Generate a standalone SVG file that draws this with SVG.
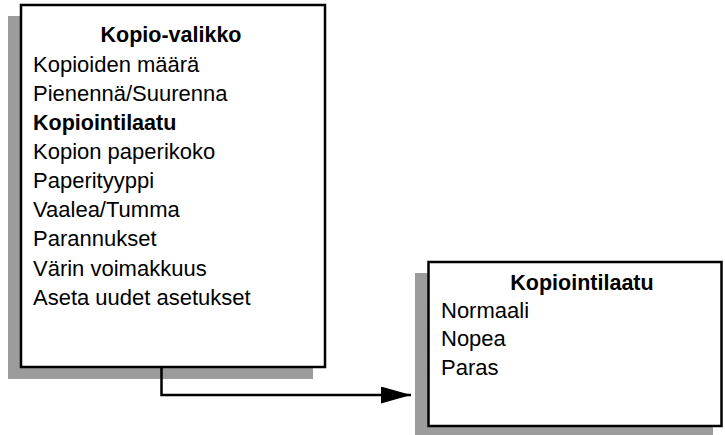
<svg xmlns="http://www.w3.org/2000/svg" width="725" height="435" viewBox="0 0 725 435">
<style>
.shadow{fill:#9c9c9c}
.box{fill:#fff;stroke:#000;stroke-width:2.5}
text{font-family:"Liberation Sans",Arial,sans-serif;font-size:22px;fill:#000}
.b{font-weight:bold;font-size:21.5px}
.c{text-anchor:middle}
.conn{fill:none;stroke:#000;stroke-width:2.5}
</style>
<defs>
<marker id="arr" markerUnits="userSpaceOnUse" markerWidth="32" markerHeight="18" refX="30" refY="8.5" orient="auto">
<path d="M0,0 L30,8.5 L0,17 Z" fill="#000"/>
</marker>
</defs>
<rect width="725" height="435" fill="#fff"/>
<g id="node-kopio-valikko">
<rect class="shadow" x="8" y="16" width="305" height="363"/>
<rect class="box" x="21" y="5" width="304" height="362"/>
<text class="b c" x="171" y="42">Kopio-valikko</text>
<text x="33" y="71.5">Kopioiden määrä</text>
<text x="33" y="100.5">Pienennä/Suurenna</text>
<text class="b" x="33" y="129.5">Kopiointilaatu</text>
<text x="33" y="158.5">Kopion paperikoko</text>
<text x="33" y="188">Paperityyppi</text>
<text x="33" y="217">Vaalea/Tumma</text>
<text x="33" y="246">Parannukset</text>
<text x="33" y="275.5">Värin voimakkuus</text>
<text x="33" y="305">Aseta uudet asetukset</text>
</g>
<g id="node-kopiointilaatu">
<rect class="shadow" x="415" y="273" width="298" height="162"/>
<rect class="box" x="428.5" y="262" width="293" height="164"/>
<text class="b c" x="582" y="290">Kopiointilaatu</text>
<text x="441" y="317.5">Normaali</text>
<text x="441" y="346">Nopea</text>
<text x="441" y="375">Paras</text>
</g>
<g id="connectors">
<path class="conn" d="M161.5,367 V395 H411" marker-end="url(#arr)"/>
</g>
</svg>
